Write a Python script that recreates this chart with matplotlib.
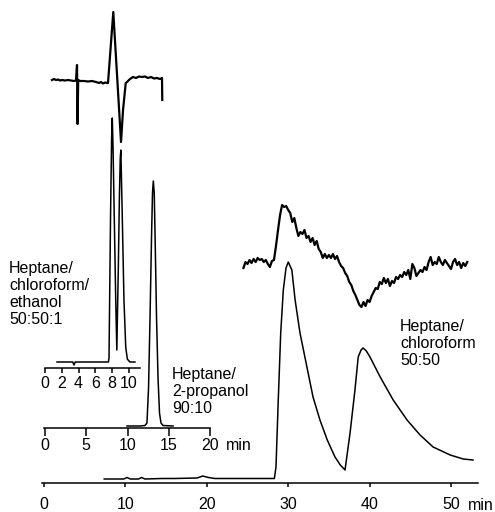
import matplotlib
matplotlib.use("Agg")
import matplotlib.pyplot as plt

plt.rcParams['font.family'] = ['Liberation Sans', 'DejaVu Sans']

# --- chromatogram 1: heptane/chloroform/ethanol 50:50:1 (time in min, signal in a.u.)
eth_t = [1.43, 3.3, 3.45, 3.6, 7.55, 7.62, 7.8, 7.93, 8.01, 8.1, 8.21, 8.42, 8.55,
         8.73, 8.85, 8.96, 9.03, 9.2, 9.4, 9.61, 9.8, 10.1, 10.71]
eth_s = [6, 6, 3, 6, 6, 10, 150, 230, 250, 220, 168, 68, 18,
         101, 168, 210, 218, 151, 68, 21, 9, 6, 6]

# derivative trace above it
eth_d_t = [0.83, 1.07, 1.31, 1.55, 1.79, 2.02, 2.38, 2.74, 3.10, 3.45, 3.69, 3.81, 3.88,
           3.95, 4.17, 4.64, 5.12, 5.60, 6.07, 6.43, 6.67, 6.90, 7.14, 7.38, 7.5,
           8.13, 9.05, 9.29, 9.61, 9.76, 10.12, 10.48, 10.83, 11.19, 11.55, 11.90,
           12.26, 12.62, 12.98, 13.33, 13.69, 13.93, 13.96]
eth_d_s = [0, 1, 0, 0.5, -0.5, 0, -0.5, 0, -0.5, -1, -0.5, 15, -44,
           0, -1, -1, -1.5, -1, -2, -3, -2, -3.5, -2.5, -3, -3,
           68, -62, -30, -3, -2, 1, 3, 2, 3.5, 3, 3.5,
           2, 3, 1.5, 2, 1, 2, -20]

# --- chromatogram 2: heptane/2-propanol 90:10
prop_t = [9.94, 11.52, 12.12, 12.36, 12.55, 12.73, 12.91, 13.03, 13.13, 13.24,
          13.37, 13.52, 13.70, 13.88, 14.06, 14.30, 15.52]
prop_s = [2, 2, 2.5, 5, 40, 110, 190, 235, 247, 235,
          180, 110, 50, 15, 5, 2.5, 2]

# --- chromatogram 3: heptane/chloroform 50:50
chl_t = [7.4, 9.8, 10.2, 10.6, 11.6, 12.0, 12.4, 14.5, 16.0, 18.8, 19.5, 20.2, 21.0,
         24.0, 28.3, 28.5, 28.78, 29.08, 29.4, 29.73, 30.01, 30.45, 30.85, 31.45,
         32.3, 33.05, 33.9, 34.8, 35.75, 36.4, 36.98, 37.6, 38.2, 38.6, 38.95,
         39.2, 39.6, 40.05, 41.3, 42.9, 44.6, 46.2, 47.8, 49.9, 51.5, 52.7]
chl_s = [4, 4, 5.5, 4, 4, 5.5, 4, 4.5, 4.5, 5, 7, 5.5, 4.5,
         4.5, 4.5, 16, 83, 150, 193, 215, 221, 213, 183, 150,
         116, 86, 63, 43, 26, 18, 13, 50, 93, 126, 133,
         135, 132, 126, 106, 83, 63, 48, 36, 28, 24, 23]

# derivative trace above it
chl_d_t = [24.5, 24.75, 25.0, 25.25, 25.5, 25.75, 26.0, 26.25, 26.5, 26.75,
           27.0, 27.25, 27.5, 27.75, 28.0, 28.25, 28.5, 28.75, 29.0, 29.25,
           29.5, 29.75, 30.0, 30.25, 30.5, 30.75, 31.0, 31.25, 31.5, 31.75,
           32.0, 32.25, 32.5, 32.75, 33.0, 33.25, 33.5, 33.75, 34.0, 34.25,
           34.5, 34.75, 35.0, 35.25, 35.5, 35.75, 36.0, 36.25, 36.5, 36.75,
           37.0, 37.25, 37.5, 37.75, 38.0, 38.25, 38.5, 38.75, 39.0, 39.25,
           39.5, 39.75, 40.0, 40.25, 40.5, 40.75, 41.0, 41.25, 41.5, 41.75,
           42.0, 42.25, 42.5, 42.75, 43.0, 43.25, 43.5, 43.75, 44.0, 44.25,
           44.5, 44.75, 45.0, 45.25, 45.5, 45.75, 46.0, 46.25, 46.5, 46.75,
           47.0, 47.25, 47.5, 47.75, 48.0, 48.25, 48.5, 48.75, 49.0, 49.25,
           49.5, 49.75, 50.0, 50.25, 50.5, 50.75, 51.0, 51.25, 51.5, 51.75, 52.0]
chl_d_s = [-2, 4, 2, 6, 3, 7, 4, 8, 6, 7,
           4, 6, 2, -1, 5, 6, 20, 36, 51, 61,
           59, 60, 56, 53, 44, 48, 38, 30, 34, 32,
           36, 28, 30, 24, 28, 21, 25, 17, 14, 8,
           12, 8, 11, 8, 12, 7, 10, 4, 0, -2,
           -7, -10, -16, -19, -25, -29, -34, -39, -41, -36,
           -40, -34, -36, -30, -26, -22, -23, -16, -18, -12,
           -17, -13, -20, -15, -17, -11, -13, -9, -11, -6,
           -9, -4, -13, 2, -2, -10, -7, -4, -6, -1,
           -4, 4, 9, 1, 4, 2, 9, 4, 1, 6,
           3, 0, -3, 4, 7, 1, 4, -2, 3, 0, 4]

eth_ticks = [0, 2, 4, 6, 8, 10]
prop_ticks = [0, 5, 10, 15, 20]
chl_ticks = [0, 10, 20, 30, 40, 50]

label_eth = "Heptane/\nchloroform/\nethanol\n50:50:1"
label_prop = "Heptane/\n2-propanol\n90:10"
label_chl = "Heptane/\nchloroform\n50:50"

W, H = 495, 512
FS = 11.5
fig = plt.figure(figsize=(W / 100, H / 100), dpi=100)


def panel(x0, x1, y_top, y_bot, t0_px, px_per_min, y_zero):
    """axes placed in pixel box; time axis has origin t0_px, signal zero at y_zero"""
    ax = fig.add_axes([x0 / W, 1 - y_bot / H, (x1 - x0) / W, (y_bot - y_top) / H])
    ax.set_xlim((x0 - t0_px) / px_per_min, (x1 - t0_px) / px_per_min)
    ax.set_ylim(y_zero - y_bot, y_zero - y_top)
    ax.patch.set_visible(False)
    for side in ['top', 'right', 'left', 'bottom']:
        ax.spines[side].set_visible(False)
    ax.set_yticks([])
    ax.set_xticks([])
    return ax


def time_axis(ax, ticks, length, pad):
    ax.spines['bottom'].set_visible(True)
    ax.spines['bottom'].set_linewidth(1.1)
    ax.set_xticks(ticks)
    ax.set_xticklabels([str(t) for t in ticks])
    ax.tick_params(axis='x', direction='out', length=length, width=1.1,
                   labelsize=FS, pad=pad)


line_kw = dict(color='black', lw=1.1, clip_on=False)
deriv_kw = dict(color='black', lw=1.6, clip_on=False)

# ethanol run
ax1 = panel(45, 140, 100, 368, 45, 8.4, 368)
time_axis(ax1, eth_ticks, 3.6, 2)
ax1.plot(eth_t, eth_s, **line_kw)

ax1d = panel(45, 170, 0, 160, 45, 8.4, 80)
ax1d.plot(eth_d_t, eth_d_s, **deriv_kw)

# 2-propanol run
ax2 = panel(44, 210, 170, 428, 45, 8.25, 428)
time_axis(ax2, prop_ticks, 5.8, 1.5)
ax2.plot(prop_t, prop_s, **line_kw)

# chloroform run
ax3 = panel(42, 478, 250, 483, 44, 8.14, 483)
time_axis(ax3, chl_ticks, 3, 7)
ax3.plot(chl_t, chl_s, **line_kw)

ax3d = panel(240, 475, 190, 320, 44, 8.14, 266)
ax3d.plot(chl_d_t, chl_d_s, **deriv_kw)


def ftext(x, y, s, **kw):
    fig.text(x / W, 1 - y / H, s, fontsize=FS, **kw)


ftext(9, 261, label_eth, va='top', ha='left', linespacing=1.18)
ftext(172, 367, label_prop, va='top', ha='left', linespacing=1.18)
ftext(400, 319, label_chl, va='top', ha='left', linespacing=1.18)
ftext(226, 446, "min", va='center', ha='left')
ftext(468, 505, "min", va='center', ha='left')

fig.savefig("out.png", dpi=100)
